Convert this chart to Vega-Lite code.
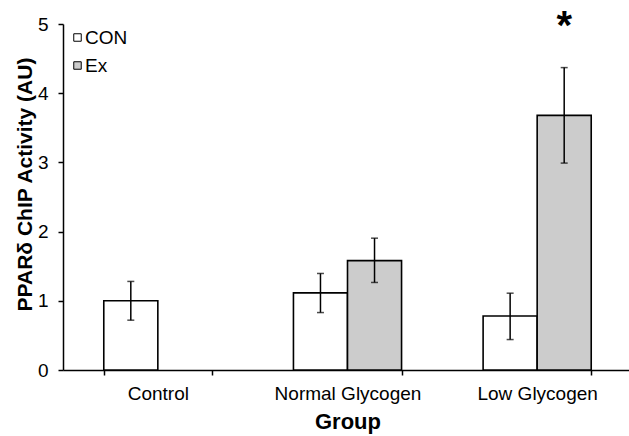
{
  "$schema": "https://vega.github.io/schema/vega-lite/v6.json",
  "width": 569,
  "height": 346,
  "autosize": {"type": "none"},
  "padding": {"left": 63, "top": 24, "right": 0, "bottom": 66},
  "background": "white",
  "config": {
    "view": {"stroke": null, "fill": null},
    "font": "Liberation Sans",
    "axis": {
      "titleFontWeight": "bold",
      "titleColor": "black",
      "labelColor": "black",
      "tickSize": 5,
      "tickColor": "black",
      "tickWidth": 1.5,
      "domainColor": "black",
      "domainWidth": 1.5,
      "grid": false
    },
    "axisX": {
      "titleFontSize": 22,
      "titlePadding": 8,
      "labelFontSize": 19,
      "labelAngle": 0,
      "labelPadding": 9,
      "tickBand": "extent"
    },
    "axisY": {
      "titleFontSize": 21,
      "titlePadding": 2,
      "titleY": 160,
      "labelFontSize": 19,
      "labelPadding": 10
    }
  },
  "data": {
    "values": [
      {"group": "Control", "cond": "CON", "value": 1.0, "lo": 0.72, "hi": 1.28, "sig": null},
      {"group": "Normal Glycogen", "cond": "CON", "value": 1.115, "lo": 0.83, "hi": 1.395, "sig": null},
      {"group": "Normal Glycogen", "cond": "Ex", "value": 1.58, "lo": 1.265, "hi": 1.905, "sig": null},
      {"group": "Low Glycogen", "cond": "CON", "value": 0.78, "lo": 0.44, "hi": 1.11, "sig": null},
      {"group": "Low Glycogen", "cond": "Ex", "value": 3.68, "lo": 2.99, "hi": 4.37, "sig": "*"}
    ]
  },
  "encoding": {
    "x": {
      "field": "group",
      "type": "nominal",
      "sort": ["Control", "Normal Glycogen", "Low Glycogen"],
      "scale": {"paddingInner": 0.43, "paddingOuter": 0.215},
      "title": "Group"
    },
    "xOffset": {
      "field": "cond",
      "type": "nominal",
      "scale": {"domain": ["CON", "Ex"], "paddingInner": 0, "paddingOuter": 0}
    },
    "y": {
      "field": "value",
      "type": "quantitative",
      "scale": {"domain": [0, 5], "nice": false},
      "title": "PPARδ ChIP Activity (AU)",
      "axis": {"values": [0, 1, 2, 3, 4, 5], "format": "d", "domain": true}
    }
  },
  "layer": [
    {
      "mark": {"type": "bar", "stroke": "black", "strokeWidth": 1.6},
      "encoding": {
        "fill": {
          "field": "cond",
          "type": "nominal",
          "scale": {"domain": ["CON", "Ex"], "range": ["white", "#cccccc"]},
          "legend": {
            "title": null,
            "orient": "none",
            "legendX": 5,
            "legendY": 4,
            "padding": 0,
            "symbolType": "square",
            "symbolSize": 56,
            "symbolStrokeColor": "black",
            "symbolStrokeWidth": 1,
            "labelFontSize": 19,
            "labelColor": "black",
            "labelOffset": -2,
            "rowPadding": 8
          }
        }
      }
    },
    {
      "mark": {"type": "rule", "color": "black", "strokeWidth": 1.5},
      "encoding": {
        "y": {"field": "lo", "type": "quantitative"},
        "y2": {"field": "hi"}
      }
    },
    {
      "mark": {"type": "tick", "color": "black", "size": 7, "thickness": 1.5},
      "encoding": {"y": {"field": "lo", "type": "quantitative"}}
    },
    {
      "mark": {"type": "tick", "color": "black", "size": 7, "thickness": 1.5},
      "encoding": {"y": {"field": "hi", "type": "quantitative"}}
    },
    {
      "transform": [{"filter": "datum.sig != null"}],
      "mark": {"type": "text", "fontSize": 40, "fontWeight": "bold", "color": "black", "baseline": "alphabetic", "dy": -29},
      "encoding": {
        "y": {"field": "hi", "type": "quantitative"},
        "text": {"field": "sig"}
      }
    }
  ]
}
